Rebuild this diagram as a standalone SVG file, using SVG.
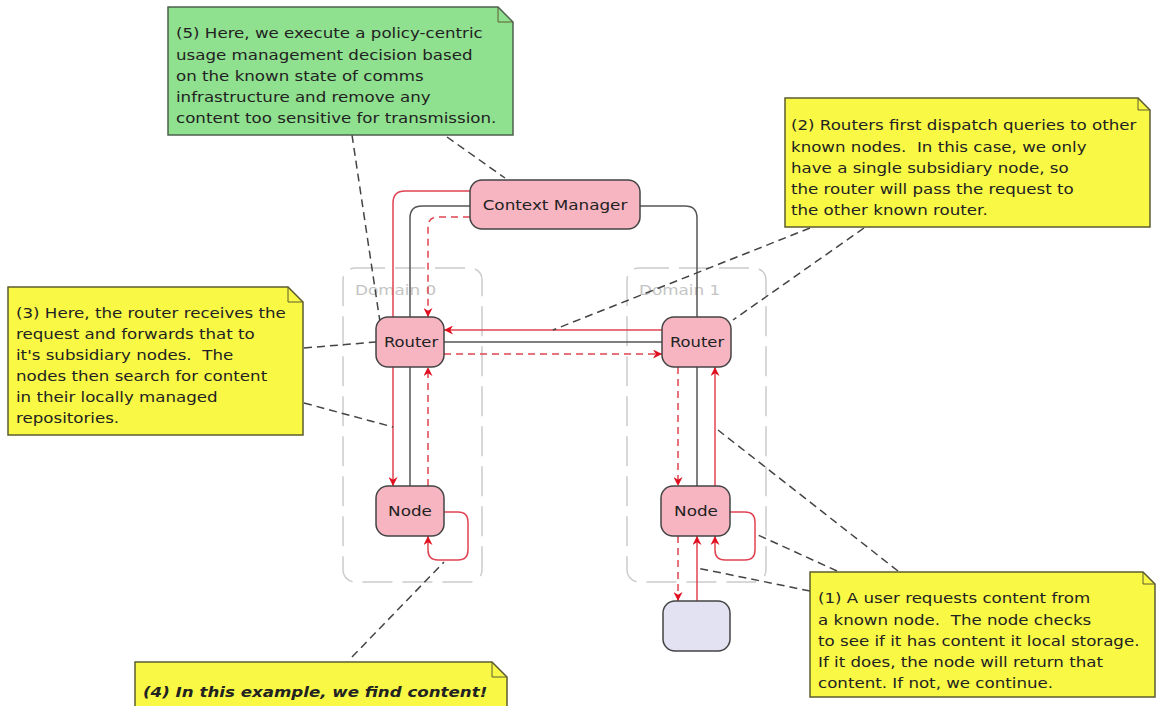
<svg xmlns="http://www.w3.org/2000/svg" width="1157" height="706" viewBox="0 0 1157 706">
<defs>
<style>
text{font-family:"DejaVu Sans","Liberation Sans",sans-serif;font-size:14px;fill:#222}
.node{fill:#F7B5C1;stroke:#444;stroke-width:1.5}
.user{fill:#E2E2F2;stroke:#444;stroke-width:1.5}
.dom{fill:none;stroke:#CCCCCC;stroke-width:1.5;stroke-dasharray:30 10}
.domlbl{fill:#C4C4C4}
.note{fill:#F9F945;stroke:#5C5C30;stroke-width:1.5}
.gnote{fill:#8FE08F;stroke:#4D5F4D;stroke-width:1.5}
.fold{fill:none;stroke:#5C5C30;stroke-width:1}
.red{fill:none;stroke:#E04452;stroke-width:1.5}
.redd{fill:none;stroke:#E04452;stroke-width:1.5;stroke-dasharray:7 5}
.gray{fill:none;stroke:#555;stroke-width:1.5}
.ann{fill:none;stroke:#444;stroke-width:1.5;stroke-dasharray:8 5}
</style>
<marker id="ah" viewBox="0 0 10 10" refX="10" refY="5" markerWidth="9" markerHeight="9" orient="auto" markerUnits="userSpaceOnUse">
<path d="M0,0 L10,5 L0,10 L3,5 Z" fill="#E01020"/>
</marker>
</defs>
<rect width="1157" height="706" fill="#FFFFFF"/>

<g id="domain0">
<rect class="dom" x="343" y="268" width="139" height="314" rx="12"/>
<g transform="translate(355,0) scale(1.2,1)"><text class="domlbl" x="0" y="295">Domain 0</text></g>
</g>
<g id="domain1">
<rect class="dom" x="627" y="268" width="139" height="314" rx="12"/>
<g transform="translate(639,0) scale(1.2,1)"><text class="domlbl" x="0" y="295">Domain 1</text></g>
</g>

<g id="connectors">
<path class="red" d="M470,191 H405 Q393,191 393,203 V486" marker-end="url(#ah)"/>
<path class="gray" d="M470,206 H422 Q410,206 410,218 V486"/>
<path class="redd" d="M470,217 H438 Q428,217 428,227 V317" marker-end="url(#ah)"/>
<path class="gray" d="M640,206 H685 Q697,206 697,218 V486"/>
<path class="red" d="M662,330 H444" marker-end="url(#ah)"/>
<path class="gray" d="M444,342 H662"/>
<path class="redd" d="M444,354 H662" marker-end="url(#ah)"/>
<path class="redd" d="M428,486 V367" marker-end="url(#ah)"/>
<path class="redd" d="M678,367 V486" marker-end="url(#ah)"/>
<path class="red" d="M715,486 V367" marker-end="url(#ah)"/>
<path class="redd" d="M678,536 V601" marker-end="url(#ah)"/>
<path class="red" d="M697,601 V536" marker-end="url(#ah)"/>
<path class="red" d="M730,512 H745 Q755,512 755,522 V550 Q755,560 745,560 H725 Q715,560 715,550 V536" marker-end="url(#ah)"/>
<path class="red" d="M444,512 H458 Q468,512 468,522 V550 Q468,560 458,560 H438 Q428,560 428,550 V536" marker-end="url(#ah)"/>
<path class="ann" d="M352,135 L380,322"/>
<path class="ann" d="M447,137 L505,178"/>
<path class="ann" d="M810,228 L553,330"/>
<path class="ann" d="M864,228 L733,320"/>
<path class="ann" d="M304,348 L376,342"/>
<path class="ann" d="M304,403 L393,427"/>
<path class="ann" d="M352,657 L444,562"/>
<path class="ann" d="M898,571 L718,430"/>
<path class="ann" d="M837,571 L758,535"/>
<path class="ann" d="M810,591 L697,568"/>
</g>

<g id="context-manager">
<rect class="node" x="470" y="180" width="170" height="49" rx="12"/>
<g transform="translate(555,0) scale(1.2,1)"><text x="0" y="210" text-anchor="middle">Context Manager</text></g>
</g>
<g id="router0">
<rect class="node" x="376" y="317" width="68" height="50" rx="12"/>
<g transform="translate(411,0) scale(1.17,1)"><text x="0" y="347" text-anchor="middle">Router</text></g>
</g>
<g id="router1">
<rect class="node" x="662" y="317" width="69" height="50" rx="12"/>
<g transform="translate(697,0) scale(1.17,1)"><text x="0" y="347" text-anchor="middle">Router</text></g>
</g>
<g id="node0">
<rect class="node" x="376" y="486" width="68" height="50" rx="12"/>
<g transform="translate(410,0) scale(1.2,1)"><text x="0" y="516" text-anchor="middle">Node</text></g>
</g>
<g id="node1">
<rect class="node" x="661" y="486" width="69" height="50" rx="12"/>
<g transform="translate(696,0) scale(1.2,1)"><text x="0" y="516" text-anchor="middle">Node</text></g>
</g>
<g id="user">
<rect class="user" x="663" y="601" width="67" height="50" rx="12"/>
</g>

<g id="note5">
<path class="gnote" d="M168,7 H498 L513,22 V135 H168 Z"/>
<path class="fold" d="M498,7 V22 H513" stroke="#4D5F4D"/>
<g transform="translate(176,0) scale(1.19,1)">
<text x="0" y="38">(5) Here, we execute a policy-centric</text>
<text x="0" y="60">usage management decision based</text>
<text x="0" y="81">on the known state of comms</text>
<text x="0" y="102">infrastructure and remove any</text>
<text x="0" y="123">content too sensitive for transmission.</text>
</g>
</g>
<g id="note2">
<path class="note" d="M785,98 H1138 L1150,110 V227 H785 Z"/>
<path class="fold" d="M1138,98 V110 H1150"/>
<g transform="translate(791,0) scale(1.19,1)">
<text x="0" y="130">(2) Routers first dispatch queries to other</text>
<text x="0" y="152" xml:space="preserve">known nodes.  In this case, we only</text>
<text x="0" y="173">have a single subsidiary node, so</text>
<text x="0" y="194">the router will pass the request to</text>
<text x="0" y="215">the other known router.</text>
</g>
</g>
<g id="note3">
<path class="note" d="M8,287 H288 L303,302 V435 H8 Z"/>
<path class="fold" d="M288,287 V302 H303"/>
<g transform="translate(16,0) scale(1.19,1)">
<text x="0" y="318">(3) Here, the router receives the</text>
<text x="0" y="339">request and forwards that to</text>
<text x="0" y="360" xml:space="preserve">it's subsidiary nodes.  The</text>
<text x="0" y="381">nodes then search for content</text>
<text x="0" y="402">in their locally managed</text>
<text x="0" y="423">repositories.</text>
</g>
</g>
<g id="note1">
<path class="note" d="M810,572 H1143 L1155,584 V697 H810 Z"/>
<path class="fold" d="M1143,572 V584 H1155"/>
<g transform="translate(818,0) scale(1.19,1)">
<text x="0" y="603">(1) A user requests content from</text>
<text x="0" y="625" xml:space="preserve">a known node.  The node checks</text>
<text x="0" y="646">to see if it has content it local storage.</text>
<text x="0" y="667">If it does, the node will return that</text>
<text x="0" y="688">content. If not, we continue.</text>
</g>
</g>
<g id="note4">
<path class="note" d="M135,662 H492 L507,677 V715 H135 Z"/>
<path class="fold" d="M492,662 V677 H507"/>
<g transform="translate(143,0) scale(1.19,1)">
<text x="0" y="697" font-weight="bold" font-style="italic">(4) In this example, we find content!</text>
</g>
</g>
</svg>
